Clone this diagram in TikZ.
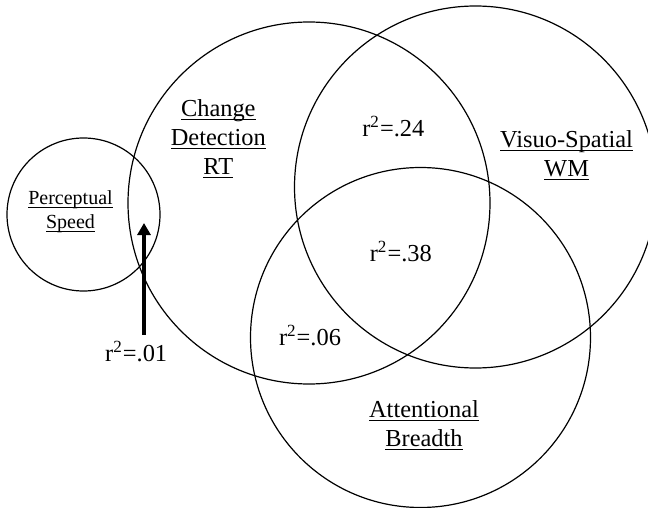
\documentclass[tikz,border=0pt]{standalone}
\usepackage{fontspec}
\setmainfont{Liberation Serif}
\usetikzlibrary{arrows.meta}

\newcommand{\ulword}[1]{\underline{\smash{#1}}\vphantom{#1}}

\begin{document}
\begin{tikzpicture}[x=0.5pt,y=-0.5pt,
    setline/.style={line width=0.6pt},
    setname/.style={align=center,font=\fontsize{12.2}{14.5}\selectfont},
    rsq/.style={anchor=base,font=\fontsize{12.2}{14.5}\selectfont},
    pointer/.style={line width=2pt,-{Triangle[length=6pt,width=6.5pt]}}]
    \useasboundingbox (0,0) rectangle (648,508);
    \clip (0,0) rectangle (648,508);

    % Sets
    \draw[setline] (83.5,214.5) circle (76.5);
    \draw[setline] (309,203) circle (181);
    \draw[setline] (475.5,187) circle (181);
    \draw[setline] (420.5,337.5) circle (170);

    % Names
    \node[setname,font=\fontsize{10}{12}\selectfont] (speed) at (70.5,211.8) {\ulword{Perceptual}\\\ulword{Speed}};
    \node[setname] (change) at (218.3,139.3) {\ulword{Change}\\\ulword{Detection}\\\ulword{RT}};
    \node[setname] (visuo) at (566.6,155.8) {\ulword{Visuo-Spatial}\\\ulword{WM}};
    \node[setname] (attention) at (424,425.3) {\ulword{Attentional}\\\ulword{Breadth}};

    % Shared variance
    \node[rsq] (r24) at (393.3,136.7) {r\textsuperscript{2}=.24};
    \node[rsq] (r38) at (400.8,261.7) {r\textsuperscript{2}=.38};
    \node[rsq] (r06) at (310,345.7) {r\textsuperscript{2}=.06};
    \node[rsq] (r01) at (136.2,361.7) {r\textsuperscript{2}=.01};

    \coordinate (tip) at (144,223);
    \draw[pointer] (tip |- r01.north) -- (tip);
\end{tikzpicture}
\end{document}
